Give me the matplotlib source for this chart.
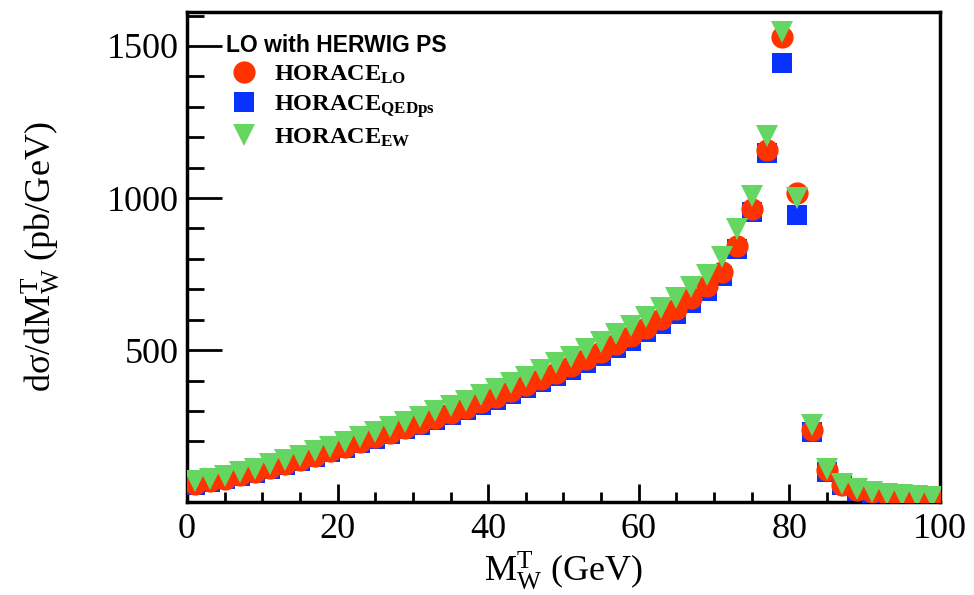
import numpy as np
import matplotlib
matplotlib.use("Agg")
import matplotlib.pyplot as plt
from matplotlib.ticker import MultipleLocator

plt.rcParams["font.family"] = ["Liberation Serif", "DejaVu Serif"]
plt.rcParams["mathtext.fontset"] = "custom"
plt.rcParams["mathtext.rm"] = "Liberation Serif"
plt.rcParams["mathtext.it"] = "Liberation Serif:italic"
plt.rcParams["mathtext.bf"] = "Liberation Serif:bold"

# bin centres of the transverse-mass distribution (2 GeV bins)
mt_bins = np.arange(1, 100, 2)

horace_lo = [60, 68, 77, 88, 100, 113, 126, 139, 153, 168,
             183, 198, 213, 229, 245, 260, 277, 293, 310, 328,
             346, 365, 385, 405, 426, 447, 470, 494, 519, 545,
             572, 602, 635, 670, 710, 757, 843, 964, 1158, 1530,
             1016, 237, 105, 58, 40, 32, 26, 21, 18, 15]
horace_qedps = [58, 66, 75, 86, 97, 110, 123, 135, 149, 164,
                178, 193, 208, 223, 239, 254, 270, 286, 302, 320,
                337, 356, 375, 395, 415, 436, 458, 482, 506, 531,
                558, 587, 619, 654, 693, 745, 832, 954, 1148, 1445,
                945, 230, 99, 55, 38, 30, 24, 20, 17, 14]
horace_ew = [68, 76, 86, 98, 110, 124, 138, 152, 167, 183,
             199, 215, 231, 248, 265, 281, 299, 316, 334, 353,
             372, 392, 413, 434, 456, 478, 502, 527, 553, 580,
             608, 639, 672, 707, 748, 805, 898, 1006, 1204, 1546,
             1000, 253, 110, 61, 42, 33, 27, 22, 19, 17]

fig = plt.figure(figsize=(9.74, 5.95), dpi=100)
ax = fig.add_axes([0.192, 0.156, 0.773, 0.824])

ax.plot(mt_bins, horace_qedps, "s", color="#0a32ff", ms=14.5, mew=0,
        label=r"$\mathbf{HORACE}_{\mathbf{QEDps}}$", zorder=3)
ax.plot(mt_bins, horace_lo, "o", color="#ff3300", ms=16, mew=0,
        label=r"$\mathbf{HORACE}_{\mathbf{LO}}$", zorder=4)
ax.plot(mt_bins, horace_ew, "v", color="#66d662", ms=16, mew=0,
        label=r"$\mathbf{HORACE}_{\mathbf{EW}}$", zorder=5)

ax.set_xlim(0, 100)
ax.set_ylim(0, 1612)
ax.xaxis.set_major_locator(MultipleLocator(20))
ax.xaxis.set_minor_locator(MultipleLocator(5))
ax.yaxis.set_major_locator(MultipleLocator(500))
ax.yaxis.set_minor_locator(MultipleLocator(100))
ax.set_yticks([500, 1000, 1500])
ax.tick_params(axis="both", which="both", direction="in", width=2, labelsize=26,
               top=False, right=False)
ax.tick_params(axis="x", which="major", length=13, pad=8)
ax.tick_params(axis="x", which="minor", length=7)
ax.tick_params(axis="y", which="major", length=25, pad=6)
ax.tick_params(axis="y", which="minor", length=12.5)
for spine in ax.spines.values():
    spine.set_linewidth(2.5)

ax.set_xlabel(r"M$_{\rm W}^{\rm T}$ (GeV)", fontsize=26, labelpad=2)
ax.set_ylabel(r"dσ/dM$_{\rm W}^{\rm T}$ (pb/GeV)", fontsize=26, labelpad=32)

handles, labels = ax.get_legend_handles_labels()
order = [1, 0, 2]
leg = ax.legend([handles[i] for i in order], [labels[i] for i in order],
                title="LO with HERWIG PS", loc="upper left",
                bbox_to_anchor=(0.052, 0.955), frameon=False, fontsize=17.5,
                handlelength=1.5, handletextpad=0.45, labelspacing=0.28,
                borderaxespad=0, borderpad=0)
leg.get_title().set_fontfamily("Liberation Sans")
leg.get_title().set_fontweight("bold")
leg.get_title().set_fontsize(16.5)
leg._legend_box.align = "left"

fig.savefig("out.png", dpi=100)
